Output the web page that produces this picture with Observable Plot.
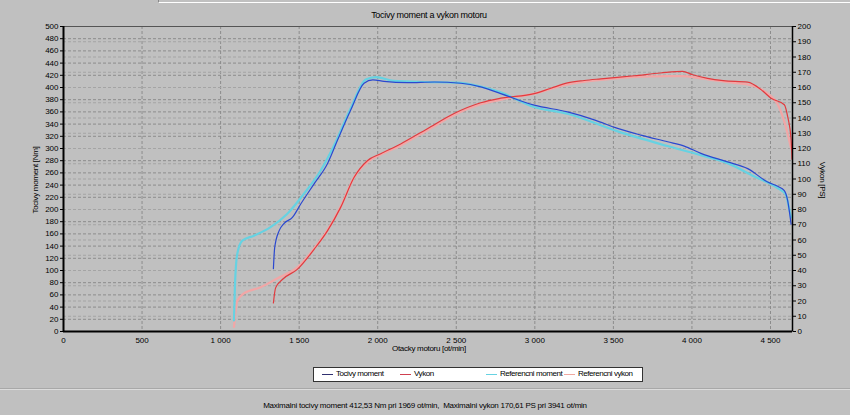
<!DOCTYPE html>
<html>
<head>
<meta charset="utf-8">
<script src="https://cdn.jsdelivr.net/npm/d3@7"></script>
<script src="https://cdn.jsdelivr.net/npm/@observablehq/plot@0.6"></script>
<style>
  html, body { margin: 0; padding: 0; background: #c0c0c0; }
  #wrap { position: relative; width: 850px; height: 415px; background: #c0c0c0; overflow: hidden;
          font-family: "Liberation Sans", Arial, sans-serif; color: #000; }
  .abs { position: absolute; white-space: nowrap; }
  #chart { position: absolute; left: 0; top: 20px; }
  .lg { position: absolute; top: 0; font-size: 8px; line-height: 12px; letter-spacing: -0.45px; }
  .sw { position: absolute; top: 6px; width: 11px; height: 1px; }
</style>
</head>
<body>
<div id="wrap">
  <div class="abs" style="left:158px;top:0;width:692px;height:2px;border-bottom:1px solid #fff;border-left:1px solid #888"></div>
  <div class="abs" style="left:0;top:10px;width:850px;text-align:center;font-size:9px;letter-spacing:-0.3px;padding-left:4px">Tocivy moment a vykon motoru</div>
  <div class="abs" style="left:35px;top:180px;font-size:8px;letter-spacing:-0.3px;transform:translate(-50%,-50%) rotate(-90deg)">Tocivy moment [Nm]</div>
  <div class="abs" style="left:822px;top:180px;font-size:8px;letter-spacing:-0.3px;transform:translate(-50%,-50%) rotate(90deg)">Vykon [PS]</div>
  <div id="chart"></div>
  <div class="abs" style="left:392px;top:344px;font-size:8px;letter-spacing:-0.3px">Otacky motoru [ot/min]</div>
  <div class="abs" id="legend" style="left:313px;top:367px;width:328px;height:13px;background:#fff;border:1px solid #333"></div>
  <div class="abs" style="left:0;top:388px;width:850px;height:0;border-top:1px solid #a8a8a8;border-bottom:1px solid #dcdcdc"></div>
  <div class="abs" style="left:0;top:401px;width:850px;text-align:center;font-size:8px;letter-spacing:-0.25px">Maximalni tocivy moment 412,53 Nm pri 1969 ot/min,&nbsp; Maximalni vykon 170,61 PS pri 3941 ot/min</div>
</div>
<script>
// ---- data ----
const seriesNames = ["Tocivy moment", "Vykon", "Referencni moment", "Referencni vykon"];
const seriesColors = ["#2a48d0", "#e23a3e", "#66d2e2", "#f2a6a6"];
const legendColors = ["#303070", "#d04050", "#66d2e2", "#f0a8a0"];

const rpmTorque = [1336,1344,1372,1403,1457,1510,1595,1680,1743,1828,1913,1969,2040,2189,2359,2529,2656,2783,2996,3208,3378,3527,3675,3845,3951,4057,4227,4355,4482,4546,4588,4609,4631];
const torque    = [103,137,165,177,187,209,242,275,313,363,407,412.5,410,408,409,407,401,390,371,360,347,333,322,311,304,292,278,267,245,238,231,215,176];

const rpmPower = [1336,1350,1393,1488,1595,1680,1764,1849,1934,2019,2146,2316,2486,2656,2783,2996,3102,3208,3314,3420,3633,3800,3941,4000,4100,4200,4355,4440,4503,4588,4609,4631,4637];
const power    = [18.7,28.6,34.1,40.7,53.9,66,81.4,101,112,116.6,123,133,143,150,153,156,159.5,163,164.6,165.7,167.7,169.5,170.6,168.5,166,164.5,163.5,158.6,153,148.7,141,126,113];

const rpmRefMoment = [1085,1091,1106,1138,1212,1318,1425,1531,1637,1722,1828,1924,1987,2100,2300,2500,2650,2783,2996,3208,3527,3845,4057,4227,4397,4546,4598,4620,4631];
const refMoment    = [18,73,127,149,157,171,193,226,264,305,366,413,417,411,409,408,402,392,368,357,328,304,289,276,254,235,224,200,187];

const rpmRefPower = [1085,1106,1148,1255,1361,1488,1595,1680,1764,1849,1934,2019,2146,2316,2486,2656,2783,2996,3208,3420,3633,3845,3941,4057,4270,4355,4482,4546,4598,4620,4631];
const refPower    = [3,20,25,29,34.8,42,54.5,66.5,82,101,111,116,122,132,142,149,152,156,162,165,167,167.5,167.5,166,163,162,156,149,134,125,120];

const xTicks = [0,500,1000,1500,2000,2500,3000,3500,4000,4500];
const nmTicks = d3.range(0, 501, 20);
const psTicks = d3.range(0, 201, 10);
const psToNm = 2.5; // right axis 0..200 PS spans same height as 0..500 Nm

// ---- tables ----
const tTorque = rpmTorque.map((r,i)=>({rpm:r, v:torque[i]}));
const tPower = rpmPower.map((r,i)=>({rpm:r, v:power[i]*psToNm}));
const tRefM = rpmRefMoment.map((r,i)=>({rpm:r, v:refMoment[i]}));
const tRefP = rpmRefPower.map((r,i)=>({rpm:r, v:refPower[i]*psToNm}));

const fmtX = d => d >= 1000 ? `${Math.floor(d/1000)}\u00a0${String(d%1000).padStart(3,"0")}` : String(d);

const chart = Plot.plot({
  width: 850,
  height: 340,
  marginTop: 6,
  marginBottom: 29,
  marginLeft: 63,
  marginRight: 58,
  style: {background: "transparent", fontFamily: "'Liberation Sans', Arial, sans-serif", fontSize: "8px", color: "#000"},
  x: {domain: [0, 4640], label: null},
  y: {domain: [0, 500], label: null},
  marks: [
    Plot.gridX(xTicks, {stroke: "#8c8c8c", strokeOpacity: 1, strokeDasharray: "3,2"}),
    Plot.gridY(nmTicks, {stroke: "#8c8c8c", strokeOpacity: 1, strokeDasharray: "3,2"}),
    Plot.gridY(psTicks.map(v=>v*psToNm), {stroke: "#a4a4a4", strokeOpacity: 1, strokeDasharray: "3,2"}),
    Plot.lineY(tRefP, {x: "rpm", y: "v", stroke: seriesColors[3], strokeWidth: 2.2, curve: "monotone-x"}),
    Plot.lineY(tRefM, {x: "rpm", y: "v", stroke: seriesColors[2], strokeWidth: 2.2, curve: "monotone-x"}),
    Plot.lineY(tPower, {x: "rpm", y: "v", stroke: seriesColors[1], strokeWidth: 1.2, curve: "monotone-x"}),
    Plot.lineY(tTorque, {x: "rpm", y: "v", stroke: seriesColors[0], strokeWidth: 1.2, curve: "monotone-x"}),
    Plot.frame({stroke: "#555"}),
    Plot.ruleX([0], {stroke: "#000", strokeWidth: 2}),
    Plot.ruleY([0], {stroke: "#000", strokeWidth: 2}),
    Plot.ruleX([4640], {stroke: "#000", strokeWidth: 1.5}),
    Plot.axisY(nmTicks, {anchor: "left", tickSize: 3, tickPadding: 2, label: null, fontSize: 8}),
    Plot.axisY(psTicks.map(v=>v*psToNm), {anchor: "right", tickSize: 3, tickPadding: 2, label: null, fontSize: 8, tickFormat: d => String(Math.round(d/psToNm))}),
    Plot.axisX(xTicks, {anchor: "bottom", tickSize: 0, tickPadding: 6, label: null, fontSize: 8, tickFormat: fmtX})
  ]
});
document.getElementById("chart").appendChild(chart);

// legend
const lgPos = [8, 86, 172, 250];
const legend = document.getElementById("legend");
seriesNames.forEach((n,i)=>{
  const sw = document.createElement("span");
  sw.className = "sw";
  sw.style.left = lgPos[i] + "px";
  sw.style.background = legendColors[i];
  legend.appendChild(sw);
  const s = document.createElement("span");
  s.className = "lg";
  s.style.left = (lgPos[i] + 14) + "px";
  s.textContent = n;
  legend.appendChild(s);
});
</script>
</body>
</html>
